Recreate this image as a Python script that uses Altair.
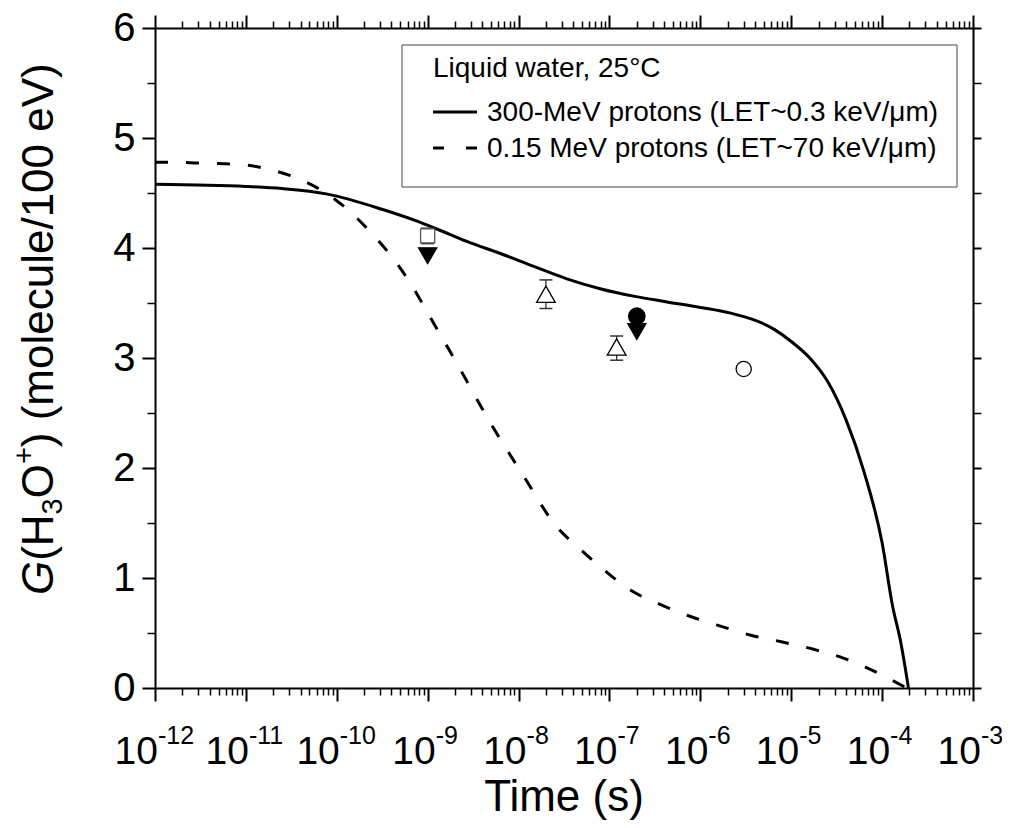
import altair as alt
import pandas as pd

FONT = "Liberation Sans"

# 300-MeV protons (solid)
solid_t = [1e-12, 1e-11, 2.5e-11, 7.9e-11, 3.2e-10, 7.9e-10, 1.8e-9, 2.7e-9, 6.3e-9,
           1.5e-8, 3.4e-8, 7.9e-8, 1.9e-7, 4.3e-7, 1e-6, 2.1e-6, 6.5e-6, 1e-5, 1.6e-5,
           2.5e-5, 4e-5, 6.3e-5, 1e-4, 1.3e-4, 1.6e-4, 1.95e-4]
solid_g = [4.58, 4.56, 4.54, 4.49, 4.35, 4.24, 4.12, 4.06, 3.95,
           3.83, 3.72, 3.63, 3.56, 3.51, 3.46, 3.41, 3.26, 3.15, 3.00,
           2.79, 2.44, 1.97, 1.32, 0.75, 0.42, 0.0]

# 0.15 MeV protons (dashed)
dash_t = [1e-12, 1.4e-12, 3.7e-12, 8.3e-12, 1.9e-11, 3.8e-11, 7.9e-11, 1.4e-10, 2.5e-10,
          4.3e-10, 6.8e-10, 1e-9, 1.45e-9, 2.1e-9, 4.9e-9, 1.15e-8, 2.6e-8, 4.8e-8,
          9.1e-8, 1.7e-7, 3.6e-7, 7.8e-7, 1.7e-6, 3.6e-6, 7.8e-6, 1.8e-5, 3.8e-5,
          7.4e-5, 1.86e-4]
dash_g = [4.78, 4.78, 4.77, 4.76, 4.71, 4.63, 4.49, 4.33, 4.12,
          3.89, 3.65, 3.41, 3.18, 2.95, 2.41, 1.92, 1.47, 1.26,
          1.06, 0.89, 0.76, 0.65, 0.56, 0.48, 0.42, 0.35, 0.27,
          0.17, 0.0]

# experimental points
pt_t = [1e-9, 1e-9, 2e-8, 1.2e-7, 2e-7, 2e-7, 3e-6]
pt_g = [4.11, 3.93, 3.58, 3.10, 3.38, 3.24, 2.90]
pt_shape = ["square", "triangle-down", "triangle-up", "triangle-up", "circle", "triangle-down", "circle"]
pt_fill = ["white", "black", "white", "white", "black", "black", "white"]
pt_stroke = ["#555555", "black", "black", "black", "black", "black", "black"]
pt_size = [200, 330, 350, 350, 270, 330, 230]

err_t = [1e-9, 2e-8, 1.2e-7]
err_lo = [4.04, 3.45, 2.98]
err_hi = [4.18, 3.71, 3.20]

x_major = [10.0 ** e for e in range(-12, -2)]
x_minor = [k * 10.0 ** e for e in range(-12, -3) for k in range(2, 10)]
y_major = [0, 1, 2, 3, 4, 5, 6]
y_minor = [0.5, 1.5, 2.5, 3.5, 4.5, 5.5]
exp_labels = ["-12", "-11", "-10", "-9", "-8", "-7", "-6", "-5", "-4", "-3"]

legend_title = "Liquid water, 25°C"
legend_labels = ["300-MeV protons (LET~0.3 keV/μm)", "0.15 MeV protons (LET~70 keV/μm)"]

solid_df = pd.DataFrame({"t": solid_t, "g": solid_g})
dash_df = pd.DataFrame({"t": dash_t, "g": dash_g})
pt_df = pd.DataFrame({"t": pt_t, "g": pt_g, "shape": pt_shape, "fill": pt_fill,
                      "stroke": pt_stroke, "size": pt_size})
err_df = pd.DataFrame({"t": err_t, "lo": err_lo, "hi": err_hi})
cap_df = pd.DataFrame({"t": err_t + err_t, "g": err_lo + err_hi})

xs = alt.Scale(type="log", domain=[1e-12, 1e-3], nice=False)
ys = alt.Scale(domain=[0, 6], nice=False, zero=False)


def xaxis(orient, values, size, width, domain):
    return alt.Axis(orient=orient, values=values, tickSize=size, tickWidth=width,
                    tickColor="black", labels=False, domain=domain, domainWidth=2,
                    domainColor="black", grid=False, title=None)


def yaxis(orient, values, size, width, domain, labels=False):
    kw = dict(orient=orient, values=values, tickSize=size, tickWidth=width,
              tickColor="black", labels=labels, domain=domain, domainWidth=2,
              domainColor="black", grid=False, title=None)
    if labels:
        kw.update(labelFontSize=40, labelFont=FONT, labelColor="black", labelPadding=7, format="d")
    return alt.Axis(**kw)


solid = alt.Chart(solid_df).mark_line(color="black", strokeWidth=3, interpolate="monotone").encode(
    x=alt.X("t:Q", scale=xs, axis=xaxis("bottom", x_major, 13, 2, True)),
    y=alt.Y("g:Q", scale=ys, axis=yaxis("left", y_major, 13, 2, True, labels=True)),
)

dashed = alt.Chart(dash_df).mark_line(color="black", strokeWidth=3, strokeDash=[13, 18],
                                      interpolate="monotone").encode(
    x=alt.X("t:Q", scale=xs, axis=xaxis("bottom", x_minor, 7, 1.5, False)),
    y=alt.Y("g:Q", scale=ys, axis=yaxis("left", y_minor, 8, 1.5, False)),
)

err = alt.Chart(err_df).mark_rule(color="#333333", strokeWidth=1.3).encode(
    x=alt.X("t:Q", scale=xs, axis=xaxis("top", x_major, 13, 2, True)),
    y=alt.Y("lo:Q", scale=ys, axis=yaxis("right", y_major, 8, 2, True)),
    y2="hi:Q",
)

caps = alt.Chart(cap_df).mark_point(shape="stroke", size=169, color="#333333",
                                    strokeWidth=1.5, opacity=1).encode(
    x=alt.X("t:Q", scale=xs, axis=xaxis("top", x_minor, 7, 1.5, False)),
    y=alt.Y("g:Q", scale=ys, axis=yaxis("right", y_minor, 8, 1.5, False)),
)

points = alt.Chart(pt_df).mark_point(opacity=1, strokeWidth=1.3).encode(
    x=alt.X("t:Q", scale=xs, axis=None),
    y=alt.Y("g:Q", scale=ys, axis=None),
    shape=alt.Shape("shape:N", scale=None),
    fill=alt.Fill("fill:N", scale=None),
    stroke=alt.Stroke("stroke:N", scale=None),
    size=alt.Size("size:Q", scale=None),
)

# x tick labels: "10" with raised exponent
lab_df = pd.DataFrame({"t": x_major, "e": exp_labels})
lab_df["two"] = lab_df["e"].str.len() > 2
layers_lab = []
for two, off in [(True, 3), (False, 8)]:
    sub = lab_df[lab_df["two"] == two]
    base = alt.Chart(sub)
    layers_lab.append(base.mark_text(font=FONT, fontSize=39, align="right", baseline="alphabetic",
                                     dx=off, color="black").encode(
        x=alt.X("t:Q", scale=xs, axis=None), y=alt.value(736), text=alt.value("10")))
    layers_lab.append(base.mark_text(font=FONT, fontSize=25, align="left", baseline="alphabetic",
                                     dx=off, color="black").encode(
        x=alt.X("t:Q", scale=xs, axis=None), y=alt.value(716), text="e:N"))

one = pd.DataFrame({"a": [0]})
xtitle = alt.Chart(one).mark_text(font=FONT, fontSize=44, align="center", baseline="alphabetic",
                                  color="black", text="Time (s)").encode(
    x=alt.value(409), y=alt.value(783))

# y title fragments (rotated)
yt_parts = ["G", "(H", "3", "O", "+", ") (molecule/100 eV)"]
yt_size = [44, 44, 29, 44, 29, 44]
yt_style = ["italic", "normal", "normal", "normal", "normal", "normal"]
yt_shift = [0, 0, 9, 0, -19, 0]
yt_width = [34.2, 46.4, 16.1, 34.2, 16.9, 384.0]
ytitle_layers = []
pos = 567.0
for txt, fs, st, sh, w in zip(yt_parts, yt_size, yt_style, yt_shift, yt_width):
    ytitle_layers.append(alt.Chart(one).mark_text(font=FONT, fontSize=fs, fontStyle=st, angle=270,
                                                  align="left", baseline="alphabetic", color="black",
                                                  text=txt).encode(
        x=alt.value(-102 + sh), y=alt.value(pos)))
    pos -= w

# legend box
leg_box = alt.Chart(one).mark_rect(fill="white", stroke="#444444", strokeWidth=1).encode(
    x=alt.value(247), x2=alt.value(802), y=alt.value(17), y2=alt.value(159))
leg_t0 = alt.Chart(one).mark_text(font=FONT, fontSize=28, align="left", baseline="alphabetic",
                                  color="black", text=legend_title).encode(
    x=alt.value(278), y=alt.value(49))
leg_s1 = alt.Chart(one).mark_rule(color="black", strokeWidth=3).encode(
    x=alt.value(278), x2=alt.value(322), y=alt.value(84))
leg_t1 = alt.Chart(one).mark_text(font=FONT, fontSize=28, align="left", baseline="alphabetic",
                                  color="black", text=legend_labels[0]).encode(
    x=alt.value(332), y=alt.value(93))
leg_s2 = alt.Chart(one).mark_rule(color="black", strokeWidth=3, strokeDash=[11, 22]).encode(
    x=alt.value(278), x2=alt.value(322), y=alt.value(120))
leg_t2 = alt.Chart(one).mark_text(font=FONT, fontSize=28, align="left", baseline="alphabetic",
                                  color="black", text=legend_labels[1]).encode(
    x=alt.value(332), y=alt.value(129))

chart = alt.layer(
    solid, dashed, err, caps, points, *layers_lab, xtitle, *ytitle_layers,
    leg_box, leg_t0, leg_s1, leg_t1, leg_s2, leg_t2,
).resolve_axis(x="independent", y="independent").properties(
    width=818, height=660,
    autosize=alt.AutoSizeParams(type="none"),
    padding={"left": 147, "top": 20, "right": 29, "bottom": 132},
    background="white",
).configure_view(stroke=None)

chart.save("out.html", embed_options={"renderer": "svg", "actions": False})
